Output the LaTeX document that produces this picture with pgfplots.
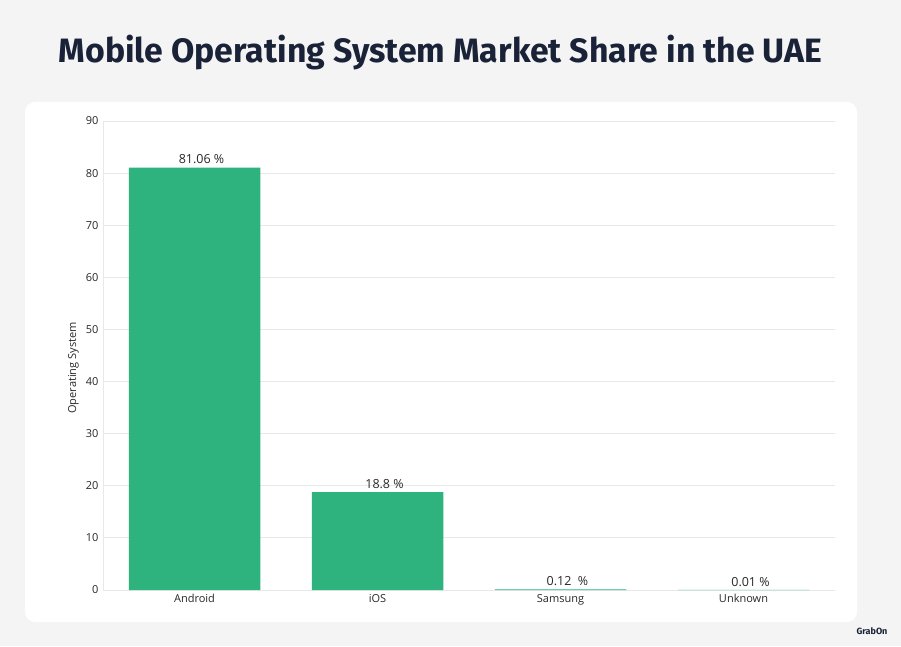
\documentclass[border=0pt]{standalone}
\usepackage{pgfplots}
\pgfplotsset{compat=1.18}
\usepackage{fontspec}
\setmainfont{Open Sans}
\newfontfamily\titlefont{Fira Sans}
\begin{document}
\begin{tikzpicture}[x=1pt,y=1pt]
    \definecolor{pagebg}{RGB}{244,244,244}
    \definecolor{barfill}{RGB}{46,179,127}
    \definecolor{titlecol}{RGB}{26,34,56}
    \definecolor{txt}{RGB}{40,40,40}
    \definecolor{gridcol}{RGB}{232,232,232}

    \fill[pagebg] (0,0) rectangle (901,646);
    \fill[white, rounded corners=10pt] (25,24) rectangle (857,544);
    \node[font=\titlefont\bfseries\fontsize{33.8}{40}\selectfont, text=titlecol, anchor=base] at (440.5,583) {Mobile Operating System Market Share in the UAE};
    \node[font=\titlefont\bfseries\fontsize{9}{10}\selectfont, text=titlecol] at (872,15) {GrabOn};

    \begin{axis}[
        at={(103pt,56pt)}, anchor=south west,
        scale only axis,
        width=732pt, height=469pt,
        xmin=-0.5, xmax=3.5,
        ymin=0, ymax=90,
        ytick={0,10,...,90},
        xtick=data,
        xticklabels={Android, iOS, Samsung, Unknown},
        tick style={draw=none},
        axis line style={draw=gridcol},
        axis x line*=bottom,
        axis y line*=left,
        ymajorgrids,
        grid style={gridcol, line width=0.8pt},
        ticklabel style={font=\fontsize{11}{13}\selectfont, text=txt},
        /pgf/number format/assume math mode=true,
        ylabel={Operating System},
        ylabel style={at={(axis description cs:0,0.5)}, anchor=center, yshift=29.5pt, xshift=-12.5pt,
            font=\fontsize{11}{13}\selectfont, text=txt},
        yticklabel style={xshift=-1pt},
        xticklabel style={yshift=-1pt},
        point meta=explicit symbolic,
        nodes near coords,
        nodes near coords style={font=\fontsize{12.5}{14}\selectfont, text=txt, xshift=7pt},
    ]
        \addplot[ybar, bar width=131.5pt, fill=barfill, draw=none] coordinates {
            (0, 81.06) [81.06 \%]
            (1, 18.8) [18.8 \%]
            (2, 0.12) [0.12\ \ \%]
            (3, 0.01) [0.01 \%]
        };
    \end{axis}
\end{tikzpicture}
\end{document}
